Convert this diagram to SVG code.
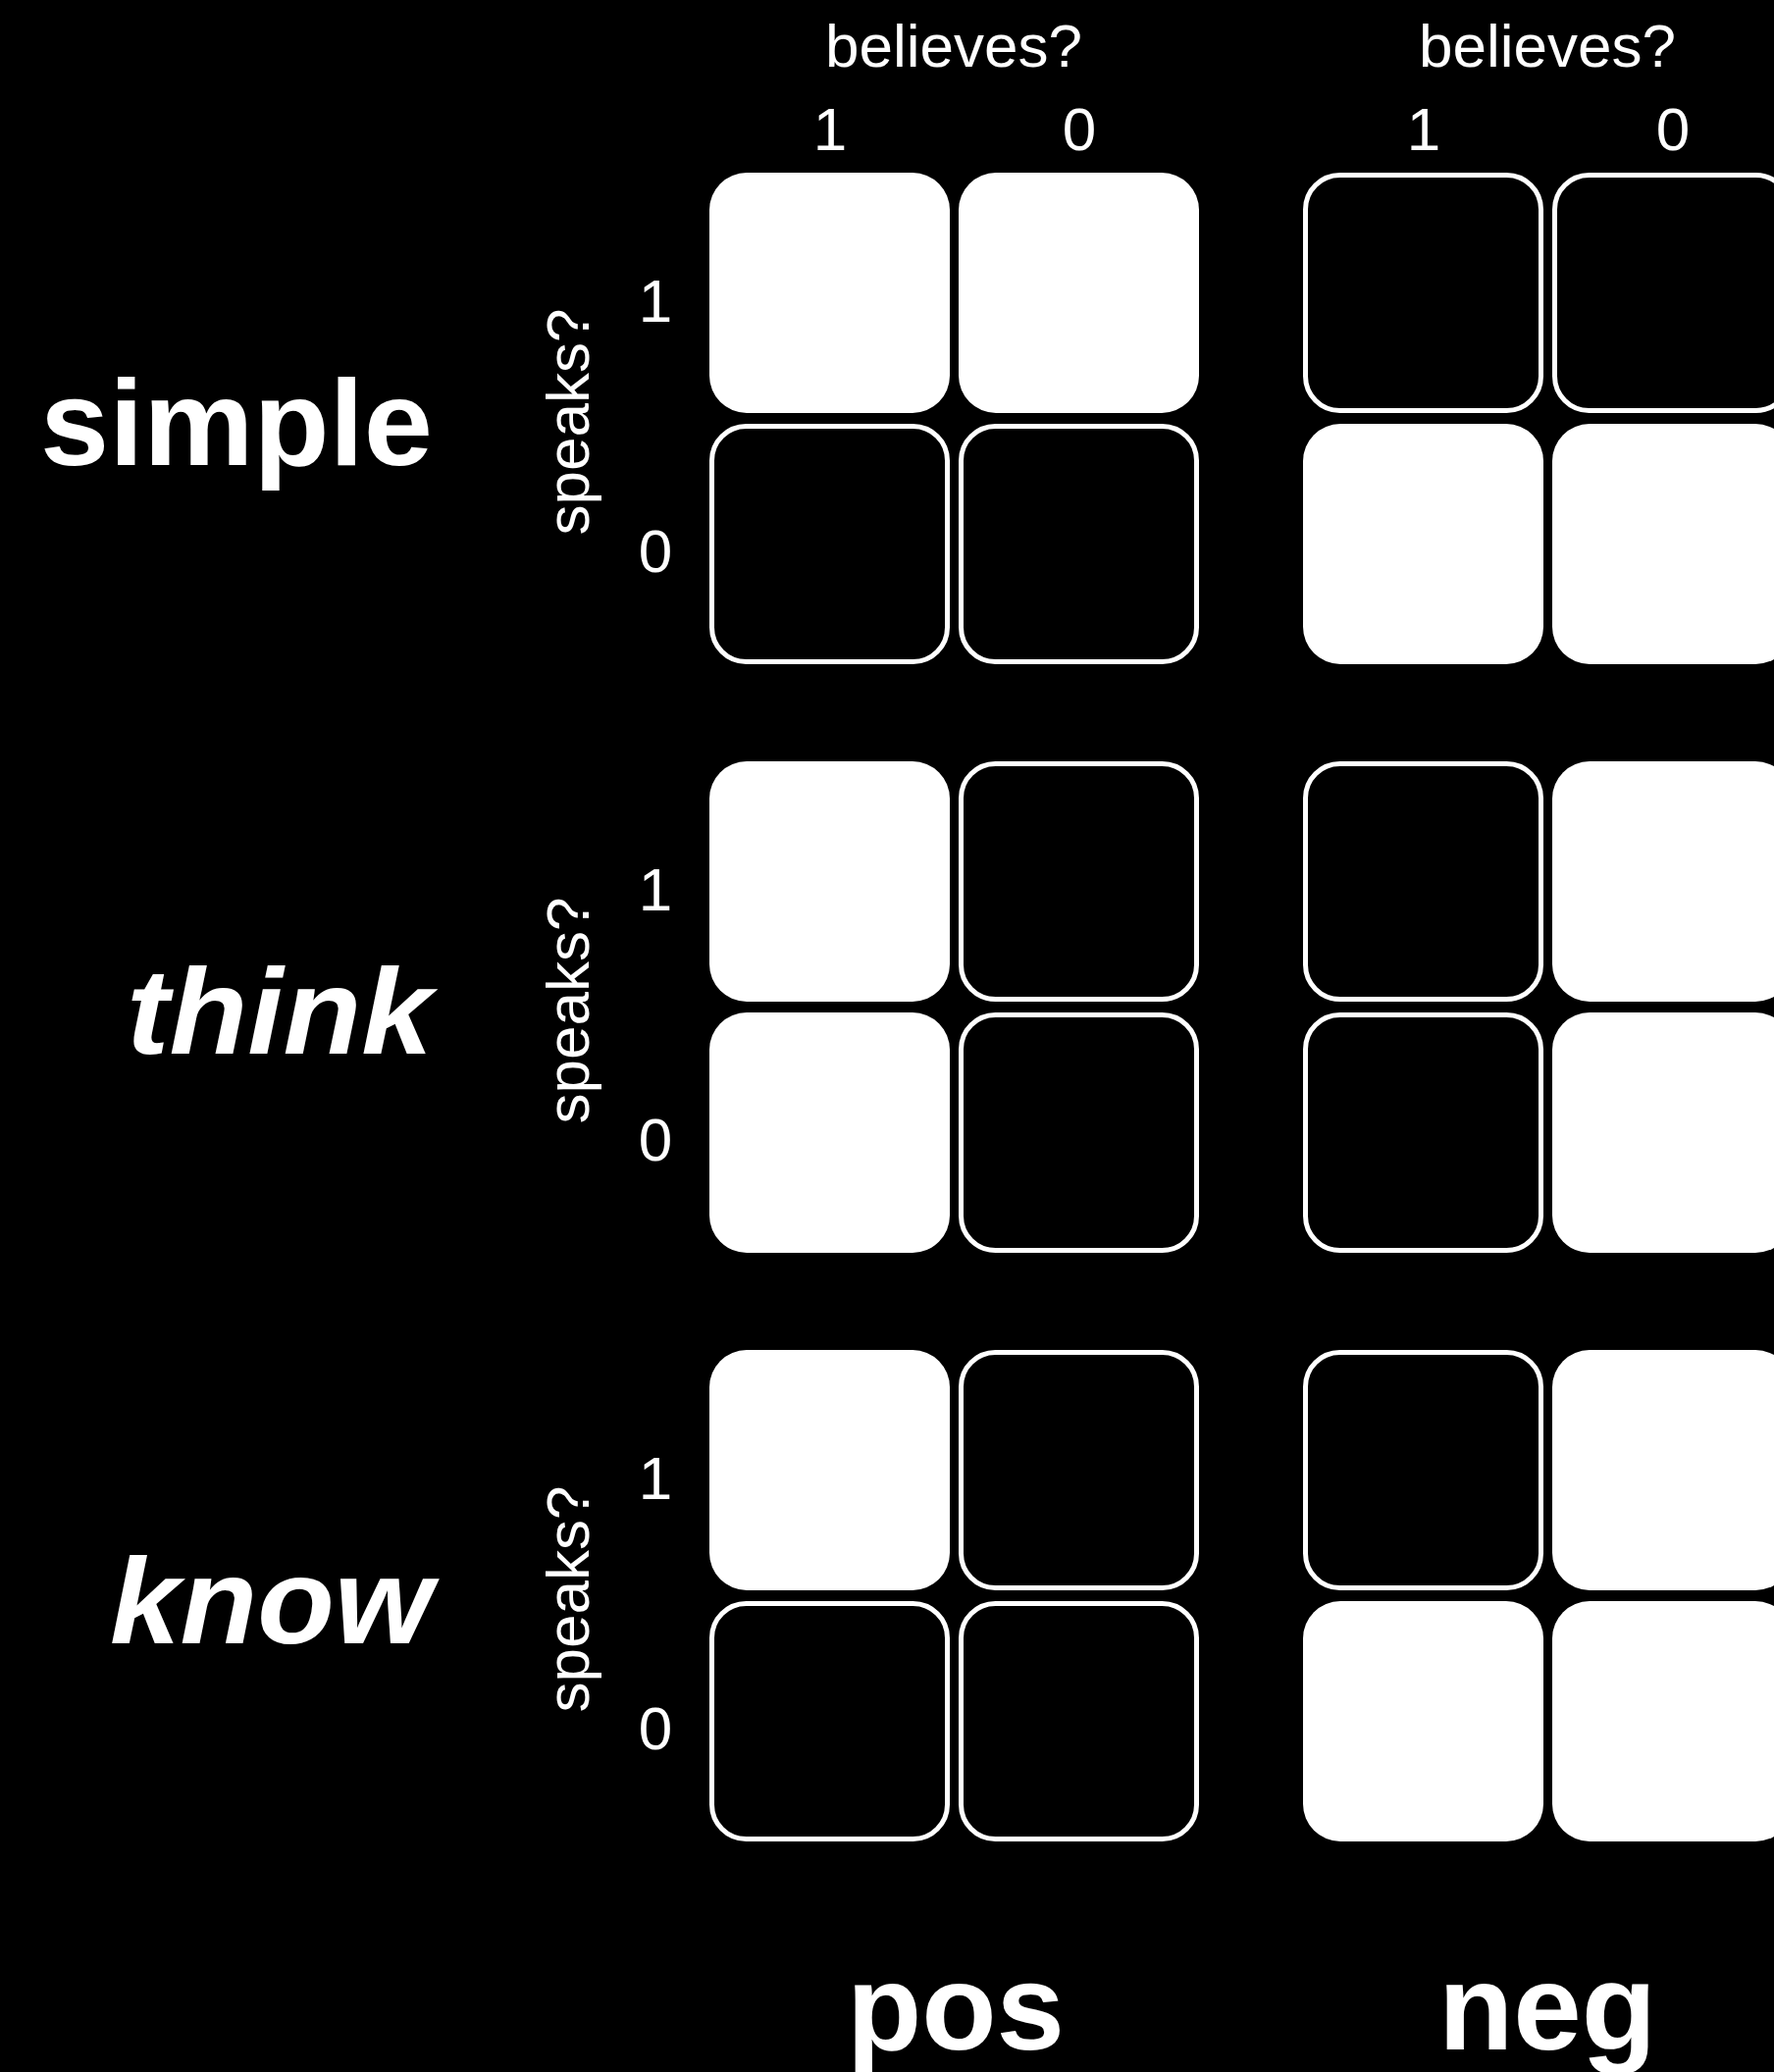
<svg xmlns="http://www.w3.org/2000/svg" width="1808" height="2112" viewBox="0 0 1808 2112">
<style>
  .w { fill: #ffffff; stroke: none; }
  .o { fill: #000000; stroke: #ffffff; stroke-width: 5; }
  .lab { font-family: "Liberation Sans", Arial, Helvetica, sans-serif; fill: #ffffff; font-size: 62px; text-anchor: middle; }
  .big { font-family: "Liberation Sans", Arial, Helvetica, sans-serif; fill: #ffffff; font-size: 125px; font-weight: bold; }
  .it { font-style: italic; }
</style>
<defs>
  <rect id="cw" width="245" height="245" rx="38" ry="38" class="w"/>
  <rect id="co" x="2.5" y="2.5" width="240" height="240" rx="35" ry="35" class="o"/>
</defs>
<rect x="0" y="0" width="1808" height="2112" fill="#000000"/>

<g id="headers">
  <text class="lab" x="972" y="68">believes?</text>
  <text class="lab" x="846" y="153">1</text>
  <text class="lab" x="1100" y="153">0</text>
  <text class="lab" x="1577" y="68">believes?</text>
  <text class="lab" x="1451" y="153">1</text>
  <text class="lab" x="1705" y="153">0</text>
</g>

<g id="row-simple">
  <text class="big" x="441" y="474" text-anchor="end" textLength="400" lengthAdjust="spacingAndGlyphs">simple</text>
  <text class="lab" transform="translate(600,430) rotate(-90)">speaks?</text>
  <text class="lab" x="668" y="328">1</text>
  <text class="lab" x="668" y="583">0</text>
  <g id="simple-pos">
    <use href="#cw" x="723" y="176"/>
    <use href="#cw" x="977" y="176"/>
    <use href="#co" x="723" y="432"/>
    <use href="#co" x="977" y="432"/>
  </g>
  <g id="simple-neg">
    <use href="#co" x="1328" y="176"/>
    <use href="#co" x="1582" y="176"/>
    <use href="#cw" x="1328" y="432"/>
    <use href="#cw" x="1582" y="432"/>
  </g>
</g>

<g id="row-think">
  <text class="big it" x="441" y="1074" text-anchor="end" textLength="312" lengthAdjust="spacingAndGlyphs">think</text>
  <text class="lab" transform="translate(600,1030) rotate(-90)">speaks?</text>
  <text class="lab" x="668" y="928">1</text>
  <text class="lab" x="668" y="1183">0</text>
  <g id="think-pos">
    <use href="#cw" x="723" y="776"/>
    <use href="#co" x="977" y="776"/>
    <use href="#cw" x="723" y="1032"/>
    <use href="#co" x="977" y="1032"/>
  </g>
  <g id="think-neg">
    <use href="#co" x="1328" y="776"/>
    <use href="#cw" x="1582" y="776"/>
    <use href="#co" x="1328" y="1032"/>
    <use href="#cw" x="1582" y="1032"/>
  </g>
</g>

<g id="row-know">
  <text class="big it" x="441" y="1675" text-anchor="end" textLength="329" lengthAdjust="spacingAndGlyphs">know</text>
  <text class="lab" transform="translate(600,1630) rotate(-90)">speaks?</text>
  <text class="lab" x="668" y="1528">1</text>
  <text class="lab" x="668" y="1783">0</text>
  <g id="know-pos">
    <use href="#cw" x="723" y="1376"/>
    <use href="#co" x="977" y="1376"/>
    <use href="#co" x="723" y="1632"/>
    <use href="#co" x="977" y="1632"/>
  </g>
  <g id="know-neg">
    <use href="#co" x="1328" y="1376"/>
    <use href="#cw" x="1582" y="1376"/>
    <use href="#cw" x="1328" y="1632"/>
    <use href="#cw" x="1582" y="1632"/>
  </g>
</g>

<g id="footer">
  <text class="big" x="974" y="2089" text-anchor="middle">pos</text>
  <text class="big" x="1577" y="2089" text-anchor="middle">neg</text>
</g>
</svg>
